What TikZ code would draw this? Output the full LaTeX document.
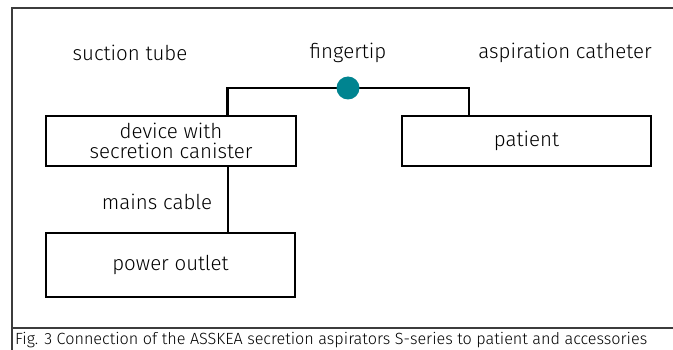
\documentclass[tikz,border=0pt]{standalone}
\usepackage{fontspec}
\setmainfont{Fira Sans Light}
\definecolor{teal}{RGB}{0,132,144}
\definecolor{framegray}{RGB}{60,60,60}
\begin{document}
\begin{tikzpicture}[x=1pt,y=-1pt,
  box/.style={draw=black,line width=2.8pt,rectangle,inner sep=0pt,align=center,font=\fontsize{20.5}{22}\selectfont},
  lbl/.style={inner sep=0pt,font=\fontsize{20.5}{22}\selectfont},
  conn/.style={draw=black,line width=2.8pt},
  framestyle/.style={draw=framegray,line width=1.3pt}]
\useasboundingbox (0,0) rectangle (673,350);
\fill[white] (0,0) rectangle (673,350);
% frame
\draw[framestyle] (690,8) -- (12,8) -- (12,360);
\draw[framestyle] (12,328) -- (690,328);
% boxes
\node[box,minimum width=250pt,minimum height=50pt] (device) at (171,141) {device with\\[-2pt]secretion canister};
\node[box,minimum width=249pt,minimum height=50pt] (patient) at (526.5,141) {patient};
\node[box,minimum width=249pt,minimum height=64pt] (power) at (170.5,265) {power outlet};
% labels
\node[lbl] (suction) at (130,53) {suction tube};
\node[lbl] (finger) at (348,53) {fingertip};
\node[lbl] (cath) at (565,53) {aspiration catheter};
\node[lbl] (mains) at (157,202) {mains cable};
% connectors
\coordinate (jl) at (227.5,88);
\coordinate (jr) at (469,88);
\coordinate (jv) at (228,200);
\draw[conn] (device.north -| jl) -- (jl) -- (jr) -- (patient.north -| jr);
\draw[conn] (device.south -| jv) -- (power.north -| jv);
\node[circle,fill=teal,minimum size=23pt,inner sep=0pt] (dot) at (348,88) {};
% caption
\node[anchor=west,inner sep=0pt,font=\fontsize{16.2}{18}\selectfont] (caption) at (15,340) {Fig. 3 Connection of the ASSKEA secretion aspirators S-series to patient and accessories};
\end{tikzpicture}
\end{document}
